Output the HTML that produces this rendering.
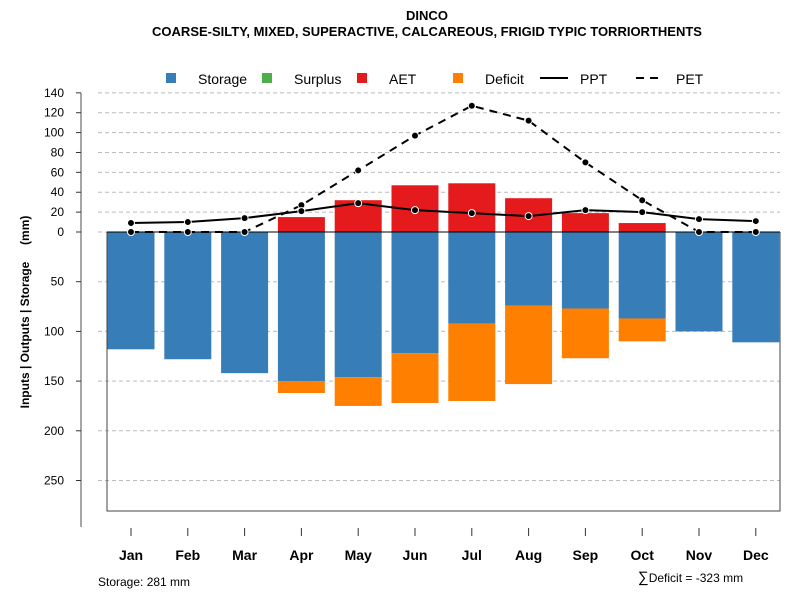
<!DOCTYPE html>
<html><head><meta charset="utf-8"><style>
body{margin:0;background:#fff;}
svg{font-family:"Liberation Sans",sans-serif;display:block}
</style></head><body>
<svg id="c" width="800" height="600" xmlns="http://www.w3.org/2000/svg">
<text x="427" y="20" text-anchor="middle" font-size="13" font-weight="bold">DINCO</text>
<text x="427" y="36" text-anchor="middle" font-size="13" font-weight="bold">COARSE-SILTY, MIXED, SUPERACTIVE, CALCAREOUS, FRIGID TYPIC TORRIORTHENTS</text>
<g id="legend" font-size="14">
<rect x="166" y="73" width="10" height="10" fill="#377eb8"/>
<text x="198" y="84">Storage</text>
<rect x="262" y="73" width="10" height="10" fill="#4daf4a"/>
<text x="294" y="84">Surplus</text>
<rect x="357" y="73" width="10" height="10" fill="#e41a1c"/>
<text x="389" y="84">AET</text>
<rect x="453" y="73" width="10" height="10" fill="#ff7f00"/>
<text x="485" y="84">Deficit</text>
<line x1="540" y1="78" x2="568" y2="78" stroke="#000" stroke-width="2"/>
<text x="580" y="84">PPT</text>
<line x1="636" y1="78" x2="664" y2="78" stroke="#000" stroke-width="2" stroke-dasharray="8,6"/>
<text x="676" y="84">PET</text>
</g>
<text transform="translate(29,312) rotate(-90)" text-anchor="middle" font-size="12" font-weight="bold" style="white-space:pre">Inputs | Outputs | Storage     (mm)</text>
<text x="98" y="586" font-size="12">Storage: 281 mm</text>
<text x="638" y="582" font-size="12"><tspan font-size="15">∑</tspan>Deficit = -323 mm</text>
</svg>
<script>
const months=["Jan","Feb","Mar","Apr","May","Jun","Jul","Aug","Sep","Oct","Nov","Dec"];
const storage=[118,128,142,150,146,122,92,74,77,87,100,111];
const deficit=[0,0,0,12,29,50,78,79,50,23,0,0];
const surplus=[0,0,0,0,0,0,0,0,0,0,0,0];
const aet=[0,0,0,15,32,47,49,34,19,9,0,0];
const ppt=[9,10,14,21,29,22,19,16,22,20,13,11];
const pet=[0,0,0,27,62,97,127,112,70,32,0,0];
const upTicks=[0,20,40,60,80,100,120,140];
const downTicks=[50,100,150,200,250];
const NS="http://www.w3.org/2000/svg";
const svg=document.getElementById('c');
const y0=232,k=0.994;
const yUp=v=>y0-v*k, yDn=v=>y0+v*k;
const xC=i=>131+i*56.8, bw=47;
function mk(t,a,p){const e=document.createElementNS(NS,t);for(const n in a)e.setAttribute(n,a[n]);(p||svg).appendChild(e);return e;}
mk('line',{x1:81,y1:93,x2:81,y2:527,stroke:'#888','stroke-width':1.5});
upTicks.forEach(v=>{const y=yUp(v);
 const g=mk('line',{x1:98,y1:y,x2:780,y2:y,stroke:'#bbb','stroke-dasharray':'4,3'});
 
 mk('line',{x1:76,y1:y,x2:81,y2:y,stroke:'#333'});
 const t=mk('text',{x:64,y:y+4,'text-anchor':'end','font-size':12});t.textContent=v;
 });
downTicks.forEach(v=>{const y=yDn(v);
 const g=mk('line',{x1:98,y1:y,x2:780,y2:y,stroke:'#bbb','stroke-dasharray':'4,3'});
 
 mk('line',{x1:76,y1:y,x2:81,y2:y,stroke:'#333'});
 const t=mk('text',{x:64,y:y+4,'text-anchor':'end','font-size':12});t.textContent=v;
 });
months.forEach((m,i)=>{const x=xC(i)-bw/2;
 let r=mk('rect',{x:x,y:y0,width:bw,height:storage[i]*k,fill:'#377eb8'});
 
 if(deficit[i]>0){r=mk('rect',{x:x,y:yDn(storage[i]),width:bw,height:deficit[i]*k,fill:'#ff7f00'});
  }
 if(aet[i]>0){r=mk('rect',{x:x,y:yUp(aet[i]),width:bw,height:aet[i]*k,fill:'#e41a1c'});
  }
 if(surplus[i]>0){r=mk('rect',{x:x,y:yUp(aet[i]+surplus[i]),width:bw,height:surplus[i]*k,fill:'#4daf4a'});
  }
 mk('line',{x1:xC(i),y1:528,x2:xC(i),y2:536,stroke:'#333'});
 const t=mk('text',{x:xC(i),y:560,'text-anchor':'middle','font-size':14,'font-weight':'bold'});t.textContent=m;
 });
mk('polyline',{points:`107,${y0} 107,511 780,511 780,${y0}`,fill:'none',stroke:'#444'});
mk('line',{x1:107,y1:y0,x2:780,y2:y0,stroke:'#000'});
function series(vals,name,dash){
 const p=mk('polyline',{points:vals.map((v,i)=>xC(i)+','+yUp(v)).join(' '),fill:'none',stroke:'#000','stroke-width':2,'stroke-dasharray':dash});
 
 vals.forEach((v,i)=>{const c=mk('circle',{cx:xC(i),cy:yUp(v),r:3.5,fill:'#000',stroke:'#fff','stroke-width':1});
  });}
series(pet,'pet','8,6');
series(ppt,'ppt','none');
</script>
</body></html>
